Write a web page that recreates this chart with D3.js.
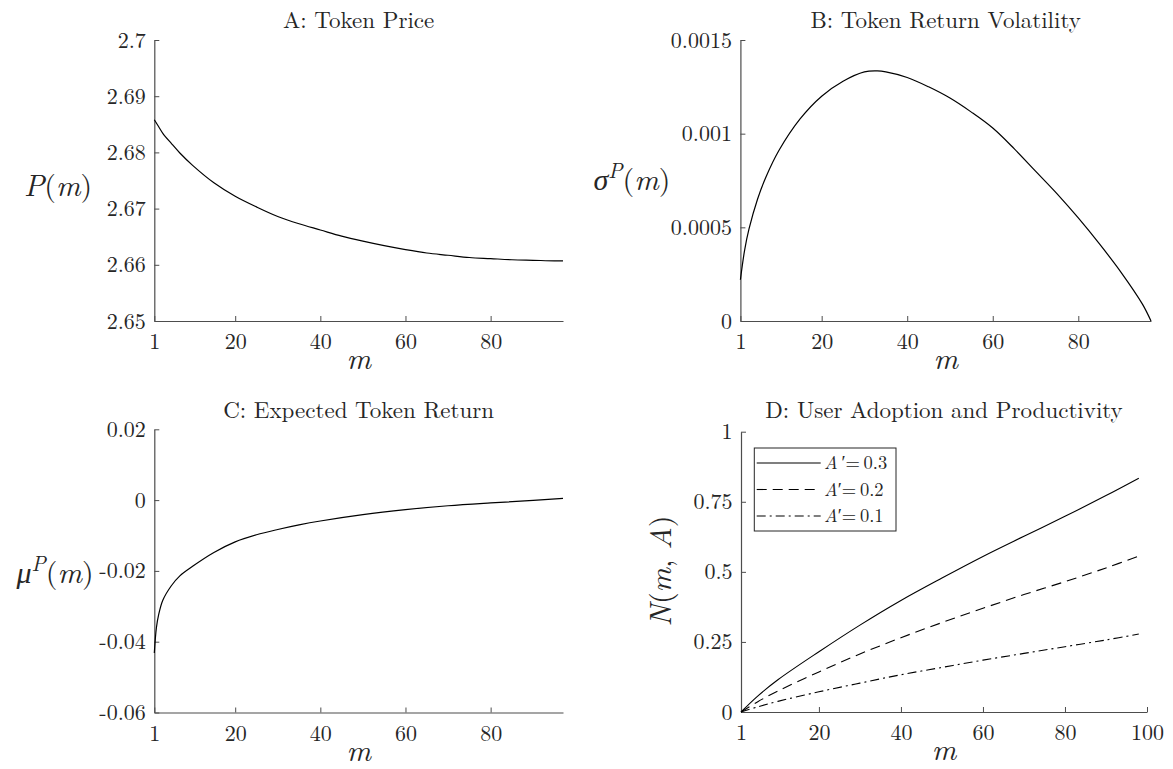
<!DOCTYPE html>
<html><head><meta charset="utf-8">
<script src="https://cdn.jsdelivr.net/npm/d3@7"></script>
<style>
body{margin:0;background:#fff}
svg text{font-family:"Latin Modern Roman","CMU Serif","Liberation Serif","DejaVu Serif","Noto Serif",Times,serif !important;fill:#262626}
</style>
</head><body>
<svg id="chart" width="1173" height="769"></svg>
<script>
// ---- Data ----
const mA = [1,2,3,5,7,10,15,20,25,30,35,40,45,50,55,60,65,70,75,80,85,90,95,97];
const priceA = [2.6858,2.6846,2.6834,2.6816,2.6799,2.6777,2.6746,2.6722,2.6703,2.6686,2.6673,2.6662,2.6651,2.6642,2.6634,2.6627,2.6621,2.6617,2.6613,2.6611,2.6609,2.6608,2.6607,2.6607];

const mB = [1,2,3,5,7,10,15,20,25,30,33,35,40,45,50,55,60,65,70,75,80,85,90,95,97];
const volB = [0.00022,0.00038,0.00049,0.00065,0.00077,0.00091,0.00108,0.00120,0.00128,0.00133,0.001335,0.00133,0.00130,0.00125,0.00119,0.001115,0.00103,0.00092,0.00080,0.00068,0.00055,0.00041,0.00026,0.00009,0.0];

const mC = [1,1.5,2,3,5,7,10,15,20,25,30,35,40,50,60,70,80,90,97];
const retC = [-0.0432,-0.036,-0.0325,-0.0283,-0.0242,-0.0214,-0.0187,-0.0148,-0.0118,-0.0098,-0.0083,-0.0070,-0.0059,-0.0041,-0.0027,-0.0016,-0.0008,-0.0001,0.0005];

const mD = [1,5,10,20,30,40,50,60,70,80,90,98];
const nA03 = [0,0.056,0.115,0.215,0.310,0.398,0.478,0.555,0.627,0.698,0.772,0.834];
const nA02 = [0,0.036,0.075,0.143,0.207,0.265,0.319,0.370,0.419,0.465,0.514,0.556];
const nA01 = [0,0.018,0.038,0.072,0.103,0.133,0.159,0.185,0.209,0.233,0.257,0.278];
const seriesLabels = ["0.3","0.2","0.1"];

const xTicks97 = [1,20,40,60,80];
const xTicks100 = [1,20,40,60,80,100];
const yTicksA = [2.65,2.66,2.67,2.68,2.69,2.7];
const yTicksB = [0,0.0005,0.001,0.0015];
const yTicksC = [-0.06,-0.04,-0.02,0,0.02];
const yTicksD = [0,0.25,0.5,0.75,1];
const yTickLabelsA = ["2.65","2.66","2.67","2.68","2.69","2.7"];
const yTickLabelsB = ["0","0.0005","0.001","0.0015"];
const yTickLabelsC = ["-0.06","-0.04","-0.02","0","0.02"];
const yTickLabelsD = ["0","0.25","0.5","0.75","1"];

// ---- Drawing ----
const FONT = "'Latin Modern Roman','CMU Serif','Liberation Serif','DejaVu Serif','Noto Serif',Times,serif";
const svg = d3.select("#chart");
const AX = "#4d4d4d";
const TICKFONT = 22;

function txt(sel){ return sel.attr("font-family",FONT).attr("fill","#262626"); }

function panel(o){
  const x = d3.scaleLinear().domain(o.xDomain).range([o.x0,o.x1]);
  const y = d3.scaleLinear().domain(o.yDomain).range([o.y0,o.y1]);
  const g = svg.append("g");
  const xa = d3.axisBottom(x).tickValues(o.xTicks).tickFormat(d3.format("d"))
      .tickSizeInner(-5).tickSizeOuter(0).tickPadding(12.5);
  const ya = d3.axisLeft(y).tickValues(o.yTicks)
      .tickFormat((d,i)=>o.yLabels[i])
      .tickSizeInner(-5).tickSizeOuter(0).tickPadding(8.5);
  const gx = g.append("g").attr("transform",`translate(0,${o.y0})`).call(xa);
  const gy = g.append("g").attr("transform",`translate(${o.x0},0)`).call(ya);
  [gx,gy].forEach(a=>{
    a.attr("font-family",FONT).attr("font-size",TICKFONT);
    a.select(".domain").attr("stroke",AX).attr("stroke-width",1.2);
    a.selectAll(".tick line").attr("stroke",AX).attr("stroke-width",1);
    txt(a.selectAll(".tick text")).attr("font-size",TICKFONT);
  });
  txt(g.append("text")).attr("x",(o.x0+o.x1)/2).attr("y",o.titleY)
    .attr("text-anchor","middle").attr("font-size",23).text(o.title);
  txt(g.append("text")).attr("x",(o.x0+o.x1)/2).attr("y",o.y0+48)
    .attr("text-anchor","middle").attr("font-size",30).attr("font-style","italic").text("m");
  return {g,x,y};
}

const line = (x,y,xs,ys)=> d3.line().x((d,i)=>x(xs[i])).y((d,i)=>y(ys[i]))
  .curve(d3.curveCatmullRom.alpha(0.5))(ys);

function mathLabel(g, attrs, parts){
  const t = txt(g.append("text")).attr("text-anchor","middle").attr("font-size",30);
  Object.entries(attrs).forEach(([k,v])=>t.attr(k,v));
  parts.forEach(p=>{
    const s = t.append("tspan").text(p.t);
    if(p.i) s.attr("font-style","italic");
    if(p.fs) s.attr("font-size",p.fs);
    if(p.dy) s.attr("dy",p.dy);
  });
  return t;
}

// Panel A
const pA = panel({x0:154.3,x1:563,y0:321,y1:40,xDomain:[1,97],yDomain:[2.65,2.7],
  xTicks:xTicks97,yTicks:yTicksA,yLabels:yTickLabelsA,title:"A: Token Price",titleY:27.5});
pA.g.append("path").attr("d",line(pA.x,pA.y,mA,priceA)).attr("fill","none").attr("stroke","#000").attr("stroke-width",1.2);
mathLabel(pA.g,{x:58,y:196},[{t:"P",i:1},{t:"("},{t:"m",i:1},{t:")"}]);

// Panel B
const pB = panel({x0:740.4,x1:1151,y0:321,y1:40,xDomain:[1,97],yDomain:[0,0.0015],
  xTicks:xTicks97,yTicks:yTicksB,yLabels:yTickLabelsB,title:"B: Token Return Volatility",titleY:27.5});
pB.g.append("path").attr("d",line(pB.x,pB.y,mB,volB)).attr("fill","none").attr("stroke","#000").attr("stroke-width",1.2);
mathLabel(pB.g,{x:632,y:190},[{t:"σ",i:1},{t:"P",i:1,fs:21,dy:-12},{t:"(",dy:12},{t:"m",i:1},{t:")"}]);

// Panel C
const pC = panel({x0:154.3,x1:563,y0:712.5,y1:429.3,xDomain:[1,97],yDomain:[-0.06,0.02],
  xTicks:xTicks97,yTicks:yTicksC,yLabels:yTickLabelsC,title:"C: Expected Token Return",titleY:418});
pC.g.append("path").attr("d",line(pC.x,pC.y,mC,retC)).attr("fill","none").attr("stroke","#000").attr("stroke-width",1.2);
mathLabel(pC.g,{x:55,y:583},[{t:"μ",i:1},{t:"P",i:1,fs:21,dy:-12},{t:"(",dy:12},{t:"m",i:1},{t:")"}]);

// Panel D
const pD = panel({x0:741,x1:1147,y0:712,y1:431.7,xDomain:[1,100],yDomain:[0,1],
  xTicks:xTicks100,yTicks:yTicksD,yLabels:yTickLabelsD,title:"D: User Adoption and Productivity",titleY:418});
const dSeries = [
  {vals:nA03,dash:null,label:seriesLabels[0],gap:true},
  {vals:nA02,dash:"10,6",label:seriesLabels[1],gap:false},
  {vals:nA01,dash:"9,4,2,4",label:seriesLabels[2],gap:false}
];
dSeries.forEach(s=>{
  pD.g.append("path").attr("d",line(pD.x,pD.y,mD,s.vals)).attr("fill","none")
    .attr("stroke","#000").attr("stroke-width",1.1).attr("stroke-dasharray",s.dash);
});
mathLabel(pD.g,{transform:"translate(671,571) rotate(-90)"},
  [{t:"N",i:1},{t:"("},{t:"m",i:1},{t:", "},{t:"A",i:1},{t:")"}]);

// Legend
{
  const lg = pD.g.append("g");
  lg.append("rect").attr("x",754.3).attr("y",448).attr("width",141.7).attr("height",83)
    .attr("fill","#fff").attr("stroke","#262626").attr("stroke-width",1);
  const rowY = [463,489.5,516];
  dSeries.forEach((s,i)=>{
    lg.append("line").attr("x1",756.7).attr("x2",820.7).attr("y1",rowY[i]).attr("y2",rowY[i])
      .attr("stroke","#000").attr("stroke-width",1.1).attr("stroke-dasharray",s.dash);
    const t = txt(lg.append("text")).attr("x",824).attr("y",rowY[i]+6).attr("font-size",18.5);
    t.append("tspan").attr("font-style","italic").text("A");
    t.append("tspan").text(s.gap ? "\u2009′=\u2009" + s.label : "′=\u2009" + s.label);
  });
}
</script>
</body></html>
